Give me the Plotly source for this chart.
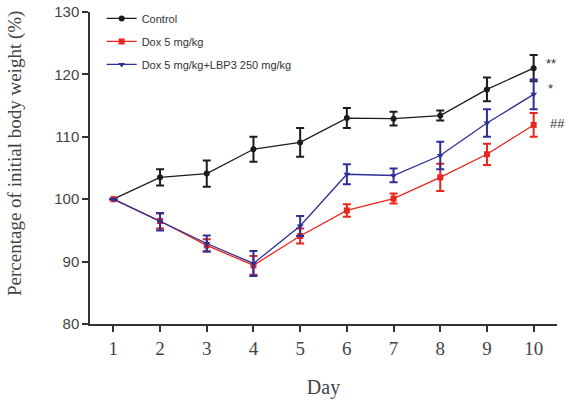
import plotly.graph_objects as go

days = [1, 2, 3, 4, 5, 6, 7, 8, 9, 10]
control = [100, 103.5, 104.1, 108.0, 109.1, 113.0, 112.9, 113.4, 117.6, 121.0]
control_err = [0, 1.3, 2.1, 2.0, 2.3, 1.6, 1.1, 0.8, 1.9, 2.1]
dox = [100, 96.5, 92.6, 89.4, 94.1, 98.2, 100.1, 103.5, 107.2, 111.9]
dox_err = [0, 1.2, 1.0, 1.5, 1.2, 1.0, 0.8, 2.2, 1.7, 1.9]
lbp = [100, 96.4, 92.9, 89.7, 95.7, 104.0, 103.8, 107.0, 112.2, 116.8]
lbp_err = [0, 1.4, 1.3, 2.0, 1.6, 1.6, 1.1, 2.2, 2.2, 2.4]

names = ["Control", "Dox 5 mg/kg", "Dox 5 mg/kg+LBP3 250 mg/kg"]
colors = ["#1c1c1c", "#e8261f", "#2d2f96"]
symbols = ["circle", "square", "triangle-down"]
sig_labels = ["**", "*", "##"]
y_title = "Percentage of initial body weight (%)"

fig = go.Figure()
series = [(control, control_err), (dox, dox_err), (lbp, lbp_err)]
for i, ((vals, errs), name, col, sym) in enumerate(zip(series, names, colors, symbols)):
    fig.add_trace(go.Scatter(
        x=days, y=vals, name=name, mode="lines+markers",
        line=dict(color=col, width=1.3),
        marker=dict(color=col, symbol=sym, size=6),
        error_y=dict(type="data", array=errs, visible=True, color=col,
                     thickness=2, width=4),
        legendgroup=f"g{i}", cliponaxis=False,
    ))

sig_y = [control[-1] + 0.8, lbp[-1] + 0.9, dox[-1] + 0.3]
sig_x = [10.38, 10.36, 10.5]
for lab, xx, yy in zip(sig_labels, sig_x, sig_y):
    fig.add_annotation(x=xx, y=yy, text=lab, showarrow=False,
                       font=dict(family="Liberation Sans, Arial", size=13, color="#333"))

fig.add_annotation(xref="paper", yref="paper", x=-0.1606, y=0.548,
                   xanchor="center", yanchor="middle", textangle=-90,
                   text=y_title, showarrow=False,
                   font=dict(family="Liberation Serif, Times New Roman", size=19, color="#444"))

fig.update_layout(
    width=569, height=402,
    margin=dict(l=90, r=12, t=12, b=78, autoexpand=False),
    paper_bgcolor="white", plot_bgcolor="white",
    showlegend=True,
    legend=dict(x=0.025, y=1.026, xanchor="left", yanchor="top",
                font=dict(family="Liberation Sans, Arial", size=11, color="#333"),
                bgcolor="rgba(0,0,0,0)", tracegroupgap=4, traceorder="grouped"),
    xaxis=dict(range=[0.5, 10.5], tickmode="array", tickvals=days,
               ticktext=[str(d) for d in days], automargin=False,
               showline=True, linecolor="#333", linewidth=1.5,
               ticks="outside", ticklen=6, tickwidth=1.5, tickcolor="#333",
               showgrid=False, zeroline=False,
               tickfont=dict(family="Liberation Serif, Times New Roman", size=19, color="#444"),
               title=dict(text="Day", standoff=22,
                          font=dict(family="Liberation Serif, Times New Roman", size=20, color="#444"))),
    yaxis=dict(range=[80, 130], tickvals=[80, 90, 100, 110, 120, 130], automargin=False,
               showline=True, linecolor="#333", linewidth=1.5,
               ticks="outside", ticklen=6, tickwidth=1.5, tickcolor="#333",
               showgrid=False, zeroline=False,
               tickfont=dict(family="Liberation Sans, Arial", size=15, color="#444")),
)

fig.write_html("out.html", config={"displayModeBar": False},
               post_script="document.body.style.margin='0';document.body.style.overflow='hidden';")
